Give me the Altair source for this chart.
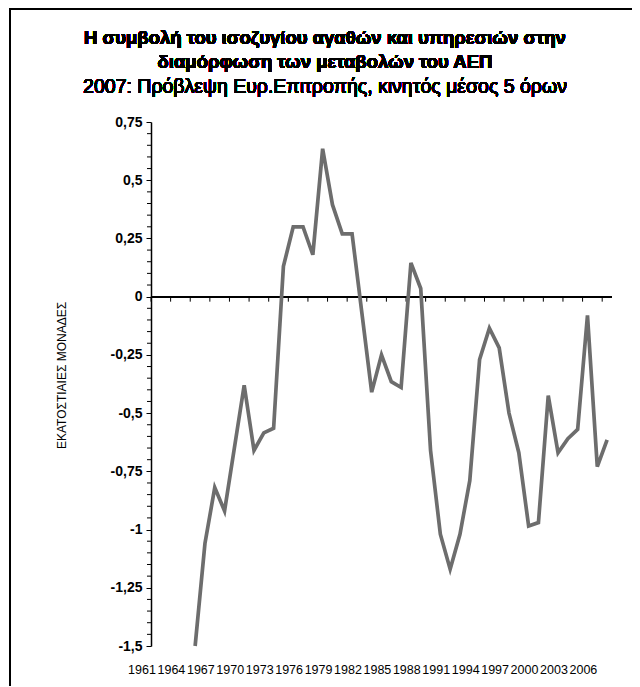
import altair as alt
import pandas as pd

years = list(range(1961, 2008))
values = [None, None, None, None,
          -1.50, -1.06, -0.82, -0.92, -0.65, -0.38, -0.66, -0.585, -0.565,
          0.13, 0.30, 0.30, 0.18, 0.635, 0.395, 0.27, 0.27, -0.07, -0.41,
          -0.25, -0.365, -0.39, 0.145, 0.035, -0.66, -1.02, -1.17, -1.02,
          -0.79, -0.27, -0.135, -0.22, -0.50, -0.67, -0.985, -0.97, -0.425,
          -0.67, -0.61, -0.57, -0.08, -0.73, -0.615]
label_years = years[::3][:16]
tick_years = years[::2]
y_major = [-1.5, -1.25, -1.0, -0.75, -0.5, -0.25, 0.0, 0.25, 0.5, 0.75]
y_minor = [round(-1.5 + 0.05 * i, 2) for i in range(46) if i % 5 != 0]

title_lines = ["Η συμβολή του ισοζυγίου αγαθών και υπηρεσιών στην",
               "διαμόρφωση των μεταβολών του ΑΕΠ"]
subtitle = "2007: Πρόβλεψη Ευρ.Επιτροπής, κινητός μέσος 5 όρων"
y_title = "ΕΚΑΤΟΣΤΙΑΙΕΣ ΜΟΝΑΔΕΣ"

FONT = "Liberation Sans, Arial, sans-serif"
W, H = 461, 524

df = pd.DataFrame({"year": years, "value": values})
ticks_df = pd.DataFrame({"year": tick_years})
minor_df = pd.DataFrame({"v": y_minor})

x_scale = alt.Scale(type="band", domain=years, paddingInner=0, paddingOuter=0)
y_scale = alt.Scale(domain=[-1.5, 0.75], nice=False, zero=False)

x_axis = alt.Axis(values=label_years, labelAngle=0, domain=False, ticks=False,
                  grid=False, labelPadding=23, labelFont=FONT, labelFontSize=12.5,
                  labelColor="#000", title=None, labelOverlap=False)
y_axis = alt.Axis(values=y_major, grid=False, domainColor="#000", domainWidth=1.5,
                  tickColor="#000", tickSize=5, labelPadding=4,
                  labelExpr="replace(toString(datum.value), '.', ',')",
                  labelFont=FONT, labelFontWeight="bold", labelFontSize=14,
                  labelColor="#000", title=y_title, titleFont=FONT,
                  titleFontWeight="normal", titleFontSize=12, titleColor="#000",
                  titleAngle=-90, titleX=-90, titleY=253, titleAlign="center",
                  titleBaseline="middle", labelOverlap=False)

line = alt.Chart(df).mark_line(color="#6d6d6d", strokeWidth=3.7).encode(
    x=alt.X("year:O", scale=x_scale, axis=x_axis, bandPosition=0.5),
    y=alt.Y("value:Q", scale=y_scale, axis=y_axis),
)

minor = alt.Chart(minor_df).mark_rule(color="#000", strokeWidth=1).encode(
    x=alt.value(-4), x2=alt.value(0),
    y=alt.Y("v:Q", scale=y_scale),
)

zero = alt.Chart(df).mark_rule(color="#000", strokeWidth=1.5).encode(
    y=alt.datum(0),
)

ticks = alt.Chart(ticks_df).mark_rule(color="#000", strokeWidth=1, y2Offset=5).encode(
    x=alt.X("year:O", scale=x_scale, bandPosition=0),
    y=alt.datum(0),
    y2=alt.datum(0),
)

frame_left = alt.Chart(df).mark_rule(color="#000", strokeWidth=2).encode(
    x=alt.value(-141), y=alt.value(-113), y2=alt.value(H + 80))
frame_top = alt.Chart(df).mark_rule(color="#000", strokeWidth=2).encode(
    y=alt.value(-113), x=alt.value(-142), x2=alt.value(W + 60))

def title_text(txt, y, size, weight):
    return alt.Chart(df).mark_text(
        font=FONT, fontSize=size, fontWeight=weight, color="#000",
        align="center", baseline="alphabetic").encode(
        x=alt.value(174), y=alt.value(y), text=alt.value(txt))

t1 = title_text(title_lines[0], -78, 18.5, "bold")
t2 = title_text(title_lines[1], -54, 18.5, "bold")
t3 = title_text(subtitle, -29, 19.5, "normal")

chart = alt.layer(zero, ticks, minor, line, frame_left, frame_top, t1, t2, t3).properties(
    width=W, height=H,
    autosize=alt.AutoSizeParams(type="none"),
    padding={"left": 143, "top": 114, "right": 20, "bottom": 40},
).configure_view(stroke=None)

chart.save("out.html", embed_options={"renderer": "svg", "actions": False})
